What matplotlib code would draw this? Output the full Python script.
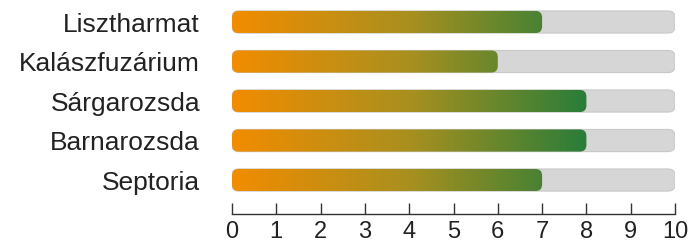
import numpy as np
import matplotlib
matplotlib.use("Agg")
import matplotlib.pyplot as plt
from matplotlib.colors import LinearSegmentedColormap
from matplotlib.patches import FancyBboxPatch

# Chart data
categories = ["Lisztharmat", "Kalászfuzárium", "Sárgarozsda", "Barnarozsda", "Septoria"]
values = [7, 6, 8, 8, 7]
max_value = 10
ticks = list(range(0, 11))

# Styling
BAR_H = 0.56
ROUND = 0.15
TRACK = "#d6d6d6"
TRACK_EDGE = "#c9c9c9"
cmap = LinearSegmentedColormap.from_list("og", ["#f28c00", "#a8901f", "#2a7d3a"])

plt.rcParams['font.family'] = ['Liberation Sans', 'DejaVu Sans']

fig = plt.figure(figsize=(6.88, 2.44), dpi=100)
ax = fig.add_axes([232 / 688, 1 - 214 / 244, (675 - 232) / 688, 214 / 244])
ax.set_xlim(0, max_value)
ax.set_ylim(4.86, -0.557)

# aspect so that rounded corners look round in pixels
px_x = ax.get_position().width * 688 / max_value
px_y = ax.get_position().height * 244 / (4.86 + 0.557)
aspect = px_x / px_y

grad = np.linspace(0, max_value, 400)
grad = np.clip(grad / 8.0, 0, 1)[None, :]

for i, (cat, v) in enumerate(zip(categories, values)):
    y0 = i - BAR_H / 2
    track = FancyBboxPatch((0, y0), max_value, BAR_H,
                           boxstyle=f"round,pad=0,rounding_size={ROUND}",
                           mutation_aspect=aspect,
                           facecolor=TRACK, edgecolor=TRACK_EDGE, linewidth=0.8,
                           zorder=1)
    ax.add_patch(track)
    bar = FancyBboxPatch((0, y0), v, BAR_H,
                         boxstyle=f"round,pad=0,rounding_size={ROUND}",
                         mutation_aspect=aspect,
                         facecolor="none", edgecolor="none", zorder=1)
    ax.add_patch(bar)
    im = ax.imshow(grad, cmap=cmap, vmin=0, vmax=1, aspect="auto",
                   extent=(0, max_value, i + BAR_H / 2, i - BAR_H / 2),
                   interpolation="bilinear", zorder=2)
    im.set_clip_path(bar)

ax.set_xlim(0, max_value)
ax.set_ylim(4.86, -0.557)

ax.set_yticks(range(len(categories)))
ax.set_yticklabels(categories, fontsize=19, color="#222222")
ax.tick_params(axis="y", length=0, pad=23)

ax.set_xticks(ticks)
ax.set_xticklabels([str(t) for t in ticks], fontsize=17, color="#222222")
ax.tick_params(axis="x", direction="in", length=8, width=1, color="#333333", pad=5)

for s in ["top", "right", "left"]:
    ax.spines[s].set_visible(False)
ax.spines["bottom"].set_color("#333333")
ax.spines["bottom"].set_linewidth(1)

fig.savefig("out.png", dpi=100)
